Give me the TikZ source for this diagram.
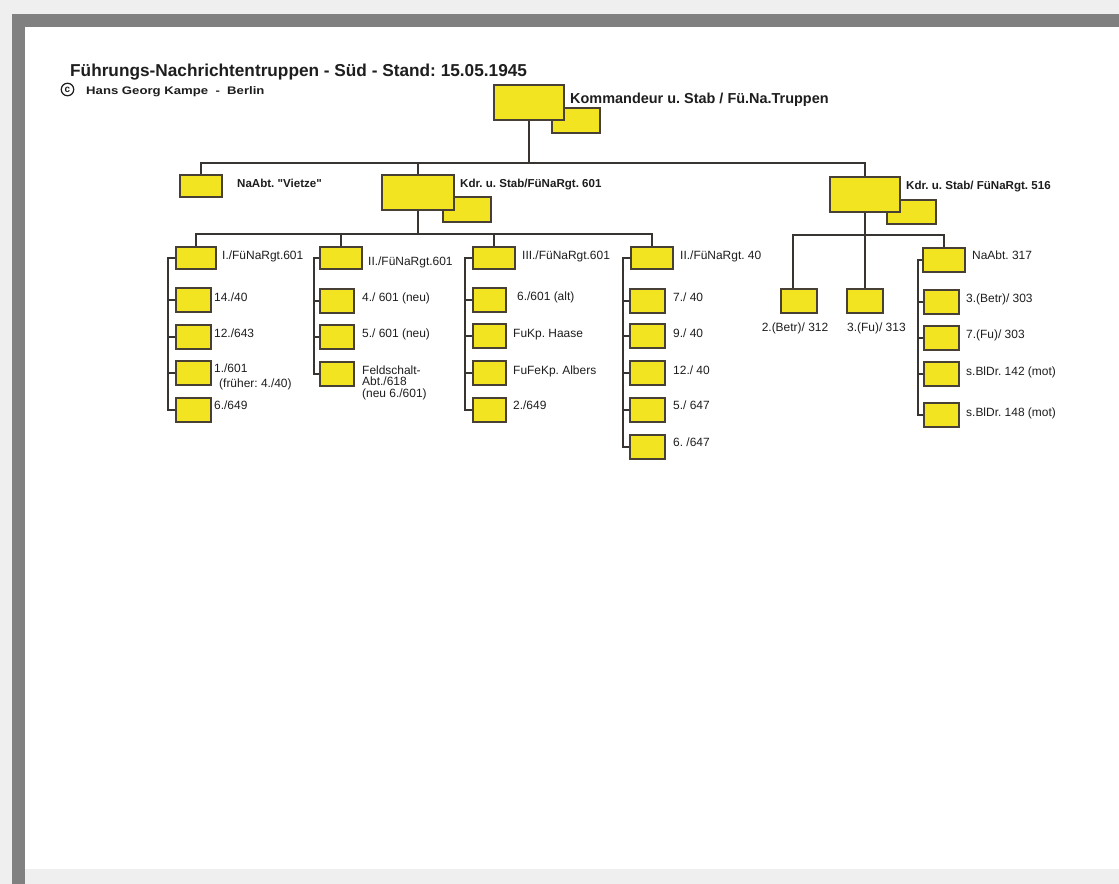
\documentclass[tikz,border=0pt]{standalone}
\usepackage{fontspec}
\setmainfont{Liberation Sans}
\newfontfamily\subfont[FakeStretch=1.2]{Liberation Sans}
\usetikzlibrary{calc}
\frenchspacing
\definecolor{bgL}{RGB}{239,239,239}
\definecolor{frameD}{RGB}{128,128,128}
\definecolor{yel}{RGB}{242,228,32}
\definecolor{boxc}{RGB}{72,64,52}
\definecolor{linec}{RGB}{55,52,50}
\definecolor{txtc}{RGB}{30,30,30}
\tikzset{
  ybox/.style={draw=boxc, fill=yel, line width=2bp, inner sep=0pt},
  bigbox/.style={ybox, minimum width=70bp, minimum height=35bp},
  stabbox/.style={ybox, minimum width=48bp, minimum height=24bp},
  midbox/.style={ybox, minimum width=42bp, minimum height=22bp},
  smallbox/.style={ybox, minimum width=35bp, minimum height=24bp},
  conn/.style={draw=linec, line width=2bp},
  lab/.style={anchor=base west, inner sep=0pt, text=txtc, font=\fontsize{12}{14}\selectfont},
  blab/.style={anchor=base west, inner sep=0pt, text=txtc, font=\bfseries\fontsize{11.6}{14}\selectfont}
}
\begin{document}
\begin{tikzpicture}[x=1bp,y=-1bp]
\useasboundingbox (0,0) rectangle (1119,884);
% frame
\fill[bgL] (0,0) rectangle (1119,884);
\fill[frameD] (12,14) rectangle (1119,27);
\fill[frameD] (12,14) rectangle (24.5,884);
\fill[white] (24.5,27) rectangle (1119,869);

% header
\node[anchor=base west, inner sep=0pt, text=txtc, font=\bfseries\fontsize{17.3}{20}\selectfont] (title) at (70,76) {Führungs-Nachrichtentruppen - Süd - Stand: 15.05.1945};
\node[circle, draw=txtc, line width=1.2pt, minimum size=12.5bp, inner sep=0pt, text=txtc, font=\bfseries\fontsize{10}{10}\selectfont] (copy) at (67.5,89.5) {c};
\node[anchor=base west, inner sep=0pt, text=txtc, font=\subfont\bfseries\fontsize{11}{12}\selectfont] (author) at (86,94) {Hans Georg Kampe\ \ -\ \ Berlin};

% top command
\node[stabbox, minimum height=25bp] (koms) at (576,120.5) {};
\node[bigbox] (kom) at (529,102.5) {};
\node[anchor=base west, inner sep=0pt, text=txtc, font=\bfseries\fontsize{14.5}{17}\selectfont] (komt) at (570,103) {Kommandeur u. Stab / Fü.Na.Truppen};

% level 1
\node[ybox, minimum width=42bp, minimum height=22bp] (vie) at (201,186) {};
\node[blab] (viet) at (237,187) {NaAbt. \textquotedbl Vietze\textquotedbl};
\node[stabbox, minimum height=25bp] (r601s) at (467,209.5) {};
\node[bigbox, minimum width=72bp] (r601) at (418,192.5) {};
\node[blab] (r601t) at (460,187) {Kdr. u. Stab/FüNaRgt. 601};
\node[stabbox, minimum width=49bp] (r516s) at (911.5,212) {};
\node[bigbox] (r516) at (865,194.5) {};
\node[blab] (r516t) at (906,189) {Kdr. u. Stab/ FüNaRgt. 516};

\coordinate (h0) at (0,163);
\draw[conn] (kom.south) -- (kom.south |- h0);
\draw[conn] (vie.north) -- (vie.north |- h0) -- (r516.north |- h0) -- (r516.north);
\draw[conn] (r601.north) -- (r601.north |- h0);

% level 2 under 601
\node[midbox, minimum width=40bp] (a1) at (196,258) {};
\node[midbox] (a2) at (341,258) {};
\node[midbox] (a3) at (494,258) {};
\node[midbox] (a4) at (652,258) {};
\node[lab] (a1t) at (222,259) {I./FüNaRgt.601};
\node[lab] (a2t) at (368,265) {II./FüNaRgt.601};
\node[lab] (a3t) at (522,259) {III./FüNaRgt.601};
\node[lab] (a4t) at (680,259) {II./FüNaRgt. 40};

\coordinate (h1) at (0,234);
\draw[conn] (r601.south) -- (r601.south |- h1);
\draw[conn] (a1.north) -- (a1.north |- h1) -- (a4.north |- h1) -- (a4.north);
\draw[conn] (a2.north) -- (a2.north |- h1);
\draw[conn] (a3.north) -- (a3.north |- h1);

% group I
\node[smallbox] (c11) at (193.5,300) {};
\node[smallbox] (c12) at (193.5,337) {};
\node[smallbox] (c13) at (193.5,373) {};
\node[smallbox] (c14) at (193.5,410) {};
\node[lab] (c11t) at (214,301) {14./40};
\node[lab] (c12t) at (214,337) {12./643};
\node[lab] (c13t) at (214,372) {1./601};
\node[lab] (c13u) at (219,387) {(früher: 4./40)};
\node[lab] (c14t) at (214,409) {6./649};
\coordinate (bx1) at (168,0);
\draw[conn] (a1.west) -- (a1.west -| bx1) -- (c14.west -| bx1) -- (c14.west);
\foreach \n in {c11,c12,c13} \draw[conn] (\n.west) -- (\n.west -| bx1);

% group II
\node[smallbox, minimum width=34bp] (c21) at (337,301) {};
\node[smallbox, minimum width=34bp] (c22) at (337,337) {};
\node[smallbox, minimum width=34bp] (c23) at (337,374) {};
\node[lab] (c21t) at (362,301) {4./ 601 (neu)};
\node[lab] (c22t) at (362,337) {5./ 601 (neu)};
\node[lab] (c23t) at (362,374) {Feldschalt-};
\node[lab] (c23u) at (362,385.5) {Abt./618};
\node[lab] (c23v) at (362,397) {(neu 6./601)};
\coordinate (bx2) at (314,0);
\draw[conn] (a2.west) -- (a2.west -| bx2) -- (c23.west -| bx2) -- (c23.west);
\foreach \n in {c21,c22} \draw[conn] (\n.west) -- (\n.west -| bx2);

% group III
\node[smallbox, minimum width=33bp] (c31) at (489.5,300) {};
\node[smallbox, minimum width=33bp] (c32) at (489.5,336) {};
\node[smallbox, minimum width=33bp] (c33) at (489.5,373) {};
\node[smallbox, minimum width=33bp] (c34) at (489.5,410) {};
\node[lab] (c31t) at (517,300) {6./601 (alt)};
\node[lab] (c32t) at (513,337) {FuKp. Haase};
\node[lab] (c33t) at (513,374) {FuFeKp. Albers};
\node[lab] (c34t) at (513,409) {2./649};
\coordinate (bx3) at (465,0);
\draw[conn] (a3.west) -- (a3.west -| bx3) -- (c34.west -| bx3) -- (c34.west);
\foreach \n in {c31,c32,c33} \draw[conn] (\n.west) -- (\n.west -| bx3);

% group II/40
\node[smallbox] (c41) at (647.5,301) {};
\node[smallbox] (c42) at (647.5,336) {};
\node[smallbox] (c43) at (647.5,373) {};
\node[smallbox] (c44) at (647.5,410) {};
\node[smallbox] (c45) at (647.5,447) {};
\node[lab] (c41t) at (673,301) {7./ 40};
\node[lab] (c42t) at (673,337) {9./ 40};
\node[lab] (c43t) at (673,374) {12./ 40};
\node[lab] (c44t) at (673,409) {5./ 647};
\node[lab] (c45t) at (673,446) {6. /647};
\coordinate (bx4) at (623,0);
\draw[conn] (a4.west) -- (a4.west -| bx4) -- (c45.west -| bx4) -- (c45.west);
\foreach \n in {c41,c42,c43,c44} \draw[conn] (\n.west) -- (\n.west -| bx4);

% group 516
\node[smallbox, minimum width=36bp] (b1) at (799,301) {};
\node[smallbox, minimum width=36bp] (b2) at (865,301) {};
\node[midbox, minimum height=24bp] (b3) at (944,260) {};
\node[anchor=base, inner sep=0pt, text=txtc, font=\fontsize{12}{14}\selectfont] (b1t) at (795,331) {2.(Betr)/ 312};
\node[lab] (b2t) at (847,331) {3.(Fu)/ 313};
\node[lab] (b3t) at (972,259) {NaAbt. 317};
\coordinate (h2) at (0,235);
\coordinate (b1top) at ($(b1.north west)!0.3333!(b1.north east)$);
\draw[conn] (r516.south) -- (b2.north);
\draw[conn] (b1top) -- (b1top |- h2) -- (b3.north |- h2) -- (b3.north);

\node[smallbox] (d1) at (941.5,302) {};
\node[smallbox] (d2) at (941.5,338) {};
\node[smallbox] (d3) at (941.5,374) {};
\node[smallbox] (d4) at (941.5,415) {};
\node[lab] (d1t) at (966,302) {3.(Betr)/ 303};
\node[lab] (d2t) at (966,338) {7.(Fu)/ 303};
\node[lab] (d3t) at (966,375) {s.BlDr. 142 (mot)};
\node[lab] (d4t) at (966,416) {s.BlDr. 148 (mot)};
\coordinate (bx5) at (918,0);
\draw[conn] (b3.west) -- (b3.west -| bx5) -- (d4.west -| bx5) -- (d4.west);
\foreach \n in {d1,d2,d3} \draw[conn] (\n.west) -- (\n.west -| bx5);
\end{tikzpicture}
\end{document}
